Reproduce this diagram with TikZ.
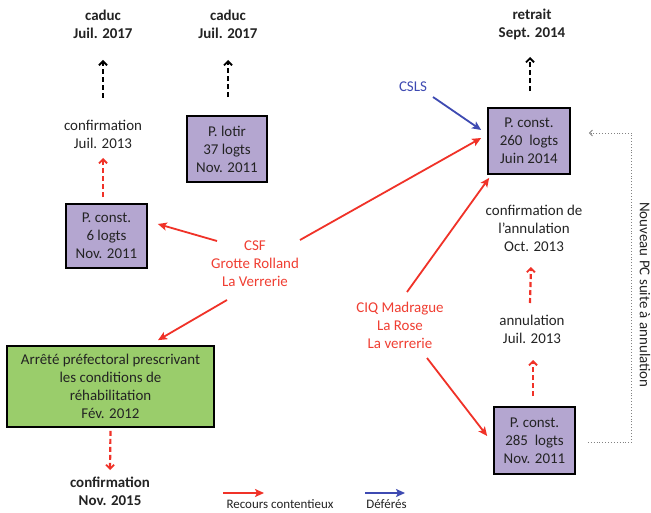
\documentclass[tikz,border=0pt]{standalone}
\usepackage{fontspec}
\setmainfont{Carlito}
\usetikzlibrary{arrows.meta,calc}
\definecolor{boxpurple}{RGB}{180,166,208}
\definecolor{boxgreen}{RGB}{154,205,107}
\definecolor{redc}{RGB}{240,50,40}
\definecolor{redt}{RGB}{240,62,50}
\definecolor{bluec}{RGB}{62,74,178}
\definecolor{txt}{RGB}{35,35,35}
\definecolor{dotgray}{RGB}{130,130,130}
\begin{document}
\begin{tikzpicture}[x=1bp,y=-1bp,
  every node/.style={font=\fontsize{15}{18}\selectfont, text=txt, align=center, inner sep=1bp},
  boldlbl/.style={font=\fontsize{15}{18}\selectfont\bfseries},
  redlbl/.style={text=redt},
  bluelbl/.style={text=bluec},
  pbox/.style={draw=black, line width=2bp, fill=boxpurple, inner sep=0pt},
  gbox/.style={draw=black, line width=2bp, fill=boxgreen, inner sep=0pt},
  legendlbl/.style={font=\fontsize{13}{15}\selectfont},
  ra/.style={draw=redc, line width=1.8bp, -{Stealth[length=9bp,width=8bp,inset=2bp]}},
  ba/.style={draw=bluec, line width=1.8bp, -{Stealth[length=9bp,width=8bp,inset=2bp]}},
  dka/.style={draw=black, line width=2.2bp, dash pattern=on 5bp off 3bp, -{Straight Barb[length=4bp,width=8bp,line width=1.8bp]}},
  rda/.style={draw=redc, line width=2.2bp, dash pattern=on 5bp off 3bp, -{Straight Barb[length=4bp,width=8bp,line width=1.8bp]}},
  dota/.style={draw=dotgray, line width=0.9bp, dotted, -{Straight Barb[length=3bp,width=6bp,line width=0.9bp]}}
]
\fill[white] (0,0) rectangle (651,513);
\useasboundingbox (0,0) rectangle (651,513);

% top outcomes
\node[boldlbl] (caduc1) at (103,24) {caduc\\Juil. 2017};
\node[boldlbl] (caduc2) at (228,24) {caduc\\Juil. 2017};
\node[boldlbl] (retrait) at (532,24) {retrait\\Sept. 2014};

% left column
\node (conf1) at (103,134.5) {confirmation\\Juil. 2013};
\node[pbox, minimum width=81, minimum height=64] (b6) at (106.5,236) {P. const.\\6 logts\\Nov. 2011};
\node[pbox, minimum width=81, minimum height=66] (lotir) at (227,149) {P. lotir\\37 logts\\Nov. 2011};
\node[redlbl] (csf) at (255,264) {CSF\\Grotte Rolland\\La Verrerie};
\node[gbox, minimum width=207, minimum height=81] (green) at (110.5,386.5) {Arrêté préfectoral prescrivant\\les conditions de\\réhabilitation\\Fév. 2012};
\node[boldlbl] (conf2) at (110,491.5) {confirmation\\Nov. 2015};

% right column
\node[bluelbl] (csls) at (413,87) {CSLS};
\node[pbox, minimum width=82, minimum height=66] (b260) at (529,141) {P. const.\\260~ logts\\Juin 2014};
\node (confann) at (534,228.5) {confirmation de\\l’annulation\\Oct. 2013};
\node[redlbl] (ciq) at (400,325) {CIQ Madrague\\La Rose\\La verrerie};
\node (annul) at (532,329) {annulation\\Juil. 2013};
\node[pbox, minimum width=81, minimum height=67] (b285) at (534.5,440.5) {P. const.\\285~ logts\\Nov. 2011};
\node[rotate=-90] (nouv) at (645,295) {Nouveau PC suite à annulation};

% red appeals
\draw[ra] ([shift={(-38,-23)}]csf.center) -- ([shift={(10,-12)}]b6.east);
\draw[ra] ([shift={(45,-24)}]csf.center) -- ([shift={(-6,-3)}]b260.west);
\draw[ra] ([shift={(-28,36)}]csf.center) -- ([shift={(47.5,-5)}]green.north);
\draw[ra] ([shift={(7,-33)}]ciq.center) -- ([shift={(2,3)}]b260.south west);
\draw[ra] ([shift={(27,33)}]ciq.center) -- ([shift={(-6,-4.5)}]b285.west);
% blue
\draw[ba] ([shift={(20,10)}]csls.center) -- ([shift={(-6,-11)}]b260.west);

% dashed black
\draw[dka] ([shift={(0,-36.5)}]conf1.center) -- ([shift={(0,36)}]caduc1.center);
\draw[dka] ([shift={(1,-18)}]lotir.north) -- ([shift={(0,36)}]caduc2.center);
\draw[dka] ([shift={(1,-16)}]b260.north) -- ([shift={(-2,33)}]retrait.center);
% dashed red
\draw[rda] ([shift={(-3.5,-6)}]b6.north) -- ([shift={(0,23.5)}]conf1.center);
\draw[rda] ([shift={(0,3)}]green.south) -- ([shift={(0,-21.5)}]conf2.center);
\draw[rda] ([shift={(-1.5,-10)}]b285.north) -- ([shift={(1,31)}]annul.center);
\draw[rda] ([shift={(-2,-26)}]annul.center) -- ([shift={(-3,38.5)}]confann.center);

% dotted loop
\draw[dota] ([shift={(12,1.5)}]b285.east) -- ++(44,0) |- ([shift={(18,-8)}]b260.east);

% legend
\coordinate (lr1) at (223,493);
\coordinate (lr2) at (264,493);
\coordinate (lb1) at (365,493);
\coordinate (lb2) at (405,493);
\draw[ra, line width=1.6bp] (lr1) -- (lr2);
\draw[ba, line width=1.6bp] (lb1) -- (lb2);
\node[legendlbl] (lrt) at (280,504) {Recours contentieux};
\node[legendlbl] (lbt) at (386.5,504) {Déférés};
\end{tikzpicture}
\end{document}
